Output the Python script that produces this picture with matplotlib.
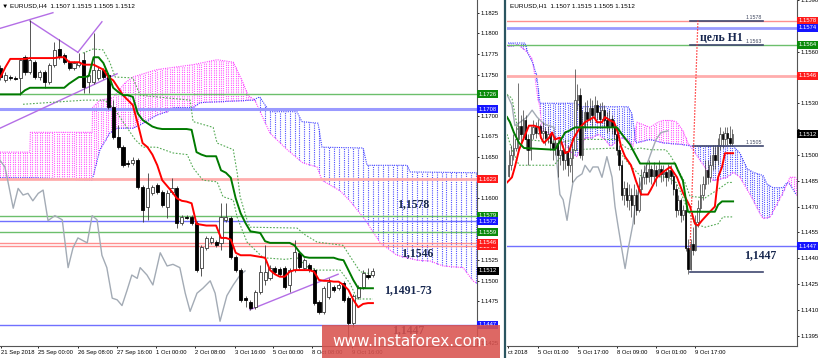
import numpy as np
import matplotlib
matplotlib.use("Agg")
import matplotlib.pyplot as plt
from matplotlib import transforms
from matplotlib.patches import Rectangle
from matplotlib.lines import Line2D

# small terminal-like font for axes
plt.rcParams['font.family'] = ['Liberation Sans', 'DejaVu Sans']

# ---------------- EURUSD H4 (left chart) ----------------
h4_open = [1.1758, 1.1743, 1.1747, 1.1746, 1.1746, 1.1771, 1.1753, 1.1765, 1.1747, 1.1753,
           1.1741, 1.1762, 1.1781, 1.1774, 1.1765, 1.1758, 1.1762, 1.1768, 1.1741, 1.1741,
           1.1746, 1.1756, 1.1750, 1.1711, 1.1674, 1.1662, 1.1643, 1.1643, 1.1646, 1.1614,
           1.1590, 1.1606, 1.1616, 1.1608, 1.1590, 1.1608, 1.1613, 1.1570, 1.1577, 1.1577,
           1.1570, 1.1516, 1.1540, 1.1547, 1.1547, 1.1546, 1.1574, 1.1576, 1.1529, 1.1513,
           1.1479, 1.1474, 1.1468, 1.1487, 1.1501, 1.1504, 1.1516, 1.1514, 1.1516, 1.1495,
           1.1513, 1.1534, 1.1516, 1.1519, 1.1513, 1.1474, 1.1462, 1.1480, 1.1493, 1.1491,
           1.1497, 1.1479, 1.1449, 1.1480, 1.1493, 1.1507, 1.1507]
h4_close = [1.1747, 1.1750, 1.1746, 1.1745, 1.1768, 1.1753, 1.1768, 1.1747, 1.1753, 1.1741,
            1.1762, 1.1780, 1.1771, 1.1765, 1.1758, 1.1764, 1.1765, 1.1735, 1.1750, 1.1756,
            1.1756, 1.1747, 1.1711, 1.1674, 1.1662, 1.1640, 1.1642, 1.1646, 1.1614, 1.1586,
            1.1613, 1.1614, 1.1608, 1.1592, 1.1606, 1.1613, 1.1570, 1.1577, 1.1576, 1.1570,
            1.1513, 1.1541, 1.1552, 1.1552, 1.1543, 1.1577, 1.1577, 1.1529, 1.1513, 1.1477,
            1.1477, 1.1467, 1.1487, 1.1511, 1.1511, 1.1516, 1.1511, 1.1508, 1.1493, 1.1513,
            1.1535, 1.1517, 1.1525, 1.1513, 1.1473, 1.1462, 1.1491, 1.1499, 1.1489, 1.1495,
            1.1477, 1.1449, 1.1482, 1.1493, 1.1510, 1.1505, 1.1512]
h4_high = [1.1762, 1.1753, 1.1750, 1.1748, 1.1770, 1.1774, 1.1816, 1.1768, 1.1756, 1.1756,
           1.1764, 1.1790, 1.1793, 1.1776, 1.1768, 1.1766, 1.1776, 1.1777, 1.1753, 1.1800,
           1.1759, 1.1758, 1.1752, 1.1719, 1.1689, 1.1665, 1.1646, 1.1650, 1.1649, 1.1616,
           1.1631, 1.1616, 1.1619, 1.1610, 1.1610, 1.1625, 1.1615, 1.1580, 1.1580, 1.1580,
           1.1573, 1.1543, 1.1554, 1.1554, 1.1550, 1.1594, 1.1594, 1.1579, 1.1531, 1.1516,
           1.1482, 1.1477, 1.1489, 1.1519, 1.1543, 1.1519, 1.1518, 1.1517, 1.1518, 1.1516,
           1.1550, 1.1536, 1.1528, 1.1522, 1.1516, 1.1477, 1.1494, 1.1504, 1.1495, 1.1497,
           1.1500, 1.1482, 1.1484, 1.1495, 1.1513, 1.1516, 1.1515]
h4_low = [1.1743, 1.1741, 1.1743, 1.1743, 1.1725, 1.1750, 1.1751, 1.1745, 1.1743, 1.1734,
          1.1739, 1.1759, 1.1769, 1.1763, 1.1756, 1.1756, 1.1759, 1.1728, 1.1728, 1.1739,
          1.1743, 1.1745, 1.1708, 1.1672, 1.1660, 1.1638, 1.1638, 1.1640, 1.1611, 1.1571,
          1.1574, 1.1604, 1.1605, 1.1590, 1.1576, 1.1605, 1.1564, 1.1568, 1.1575, 1.1568,
          1.1511, 1.1506, 1.1537, 1.1545, 1.1541, 1.1537, 1.1571, 1.1526, 1.1511, 1.1474,
          1.1468, 1.1465, 1.1466, 1.1484, 1.1495, 1.1501, 1.1508, 1.1506, 1.1490, 1.1487,
          1.1511, 1.1514, 1.1513, 1.1511, 1.1471, 1.1460, 1.1460, 1.1478, 1.1487, 1.1489,
          1.1474, 1.1432, 1.1444, 1.1478, 1.1490, 1.1502, 1.1505]

# Tenkan (red) and Kijun (green), one value per H4 bar
h4_tenkan = [1.1747, 1.1759, 1.1769, 1.1769, 1.1769, 1.1769, 1.1770, 1.1770, 1.1770, 1.1770,
             1.1770, 1.1770, 1.1771, 1.1771, 1.1765, 1.1765, 1.1765, 1.1762, 1.1762, 1.1762,
             1.1759, 1.1756, 1.1747, 1.1743, 1.1734, 1.1725, 1.1719, 1.1713, 1.1691, 1.1667,
             1.1662, 1.1653, 1.1640, 1.1622, 1.1615, 1.1608, 1.1600, 1.1597, 1.1596, 1.1594,
             1.1569, 1.1568, 1.1567, 1.1567, 1.1567, 1.1552, 1.1552, 1.1550, 1.1534, 1.1531,
             1.1531, 1.1531, 1.1530, 1.1529, 1.1528, 1.1513, 1.1508, 1.1505, 1.1505, 1.1511,
             1.1513, 1.1513, 1.1513, 1.1513, 1.1511, 1.1501, 1.1500, 1.1500, 1.1499, 1.1499,
             1.1495, 1.1489, 1.1477, 1.1468, 1.1472, 1.1473, 1.1473]
h4_kijun = [1.1726, 1.1726, 1.1726, 1.1726, 1.1726, 1.1731, 1.1734, 1.1734, 1.1734, 1.1734,
            1.1734, 1.1734, 1.1734, 1.1734, 1.1739, 1.1743, 1.1747, 1.1747, 1.1748, 1.1771,
            1.1771, 1.1764, 1.1750, 1.1734, 1.1729, 1.1725, 1.1725, 1.1723, 1.1703, 1.1695,
            1.1691, 1.1687, 1.1685, 1.1684, 1.1684, 1.1684, 1.1684, 1.1684, 1.1684, 1.1683,
            1.1656, 1.1653, 1.1651, 1.1651, 1.1651, 1.1634, 1.1631, 1.1625, 1.1600, 1.1582,
            1.1570, 1.1560, 1.1559, 1.1558, 1.1548, 1.1546, 1.1546, 1.1546, 1.1546, 1.1546,
            1.1543, 1.1535, 1.1529, 1.1528, 1.1528, 1.1528, 1.1528, 1.1528, 1.1528, 1.1526,
            1.1525, 1.1513, 1.1501, 1.1491, 1.1491, 1.1491, 1.1491]

# dotted green lines (vertices: bar, price)
h4_dot_up_x = [16.8, 18.9, 20.9, 22.3, 23.4, 27.0, 28.5, 38.7, 39.3, 43.4, 44.2, 47.5, 48.3, 48.9,
               50.3, 50.9, 60.5, 62.1, 64.6, 69.9, 71.3, 73.4, 76.0]
h4_dot_up_y = [1.1776, 1.1781, 1.1780, 1.1765, 1.1747, 1.1746, 1.1725, 1.1719, 1.1693, 1.1686,
               1.1667, 1.1659, 1.1631, 1.1602, 1.1574, 1.1565, 1.1564, 1.1556, 1.1547, 1.1543,
               1.1530, 1.1511, 1.1508]
h4_dot_lo_x = [4.6, 12.1, 17.2, 21.3, 23.4, 27.5, 29.1, 31.9, 35.2, 38.1, 39.3, 41.3, 44.2, 45.4,
               47.5, 48.3, 50.3, 53.6, 58.1, 60.5, 62.6, 64.6, 69.3, 71.3, 72.8, 76.0]
h4_dot_lo_y = [1.1714, 1.1717, 1.1719, 1.1719, 1.1707, 1.1671, 1.1662, 1.1662, 1.1655, 1.1653,
               1.1637, 1.1622, 1.1620, 1.1602, 1.1598, 1.1577, 1.1547, 1.1528, 1.1526, 1.1528,
               1.1517, 1.1513, 1.1513, 1.1497, 1.1478, 1.1478]

# Chikou span (grey)
h4_chikou_x = [-0.1, 0.9, 1.5, 2.6, 3.6, 4.6, 5.6, 6.6, 7.7, 8.7, 9.7, 11.1, 12.6, 13.8, 14.8, 15.8,
               17.7, 18.7, 19.7, 20.7, 21.7, 22.8, 23.8, 24.8, 25.8, 26.8, 27.9, 28.5, 29.9, 31.1,
               32.6, 34.0, 35.2, 36.6, 37.7, 38.7, 40.1, 41.3, 42.8, 43.8, 44.8, 46.2, 47.5, 48.9, 49.9]
h4_chikou_y = [1.1646, 1.1638, 1.1621, 1.1588, 1.1612, 1.1604, 1.1606, 1.1597, 1.1606, 1.1610,
               1.1573, 1.1579, 1.1574, 1.1516, 1.1540, 1.1552, 1.1546, 1.1579, 1.1574, 1.1531,
               1.1516, 1.1479, 1.1477, 1.1470, 1.1488, 1.1507, 1.1503, 1.1516, 1.1507, 1.1495,
               1.1534, 1.1518, 1.1520, 1.1516, 1.1485, 1.1463, 1.1485, 1.1491, 1.1500, 1.1485,
               1.1451, 1.1482, 1.1495, 1.1507, 1.1512]

# Senkou span A (magenta) and B (blue) vertices
h4_spanA_x = [-0.1, 6.0, 6.1, 18.7, 18.8, 20.3, 23.0, 25.4, 27.0, 31.9, 39.3, 44.2, 47.5, 49.5, 50.5,
              51.9, 55.0, 58.5, 61.7, 64.6, 65.6, 69.3, 71.3, 74.4, 77.5, 80.9, 85.0, 87.7, 90.3,
              94.4, 96.4, 97.2]
h4_spanA_y = [1.1656, 1.1656, 1.1680, 1.1680, 1.1710, 1.1719, 1.1722, 1.1740, 1.1747, 1.1756,
              1.1762, 1.1768, 1.1765, 1.1740, 1.1725, 1.1719, 1.1679, 1.1659, 1.1643, 1.1638,
              1.1622, 1.1609, 1.1597, 1.1574, 1.1546, 1.1531, 1.1525, 1.1524, 1.1518, 1.1516,
              1.1500, 1.1497]
h4_spanB_x = [-0.1, 7.0, 18.7, 20.3, 22.3, 23.8, 27.0, 29.1, 31.9, 34.0, 35.2, 39.3, 40.7, 51.5,
              52.9, 54.0, 55.0, 60.5, 61.5, 64.8, 65.6, 74.0, 74.8, 83.0, 83.6, 97.2]
h4_spanB_y = [1.1625, 1.1625, 1.1622, 1.1659, 1.1679, 1.1685, 1.1685, 1.1691, 1.1701, 1.1705,
              1.1710, 1.1710, 1.1716, 1.1719, 1.1723, 1.1713, 1.1705, 1.1705, 1.1693, 1.1691,
              1.1662, 1.1661, 1.1640, 1.1640, 1.1632, 1.1631]

# purple trend lines (start bar, start price, end bar, end price)
h4_trends = [(-0.1, 1.1806, 10.7, 1.1825), (6.0, 1.1815, 15.8, 1.1777), (15.8, 1.1777, 20.7, 1.1814),
             (-0.1, 1.1685, 23.8, 1.1751), (50.9, 1.1465, 68.9, 1.1508)]

h4_levels = [1.1726, 1.1708, 1.1623, 1.1579, 1.1572, 1.1559, 1.1542, 1.1546, 1.1447]
h4_level_kind = ['g', 'b', 'r', 'g', 'b', 'g', 'r', 'r', 'b']
h4_level_width = [1.0, 2.2, 2.0, 1.0, 1.0, 1.0, 1.0, 1.0, 1.0]

h4_price_ticks = [1.1425, 1.1450, 1.1475, 1.1500, 1.1525, 1.1550, 1.1575, 1.1600, 1.1625,
                  1.1650, 1.1675, 1.1700, 1.1725, 1.1750, 1.1775, 1.1800, 1.1825]
h4_dates = ['21 Sep 2018', '25 Sep 00:00', '26 Sep 08:00', '27 Sep 16:00', '1 Oct 00:00',
            '2 Oct 08:00', '3 Oct 16:00', '5 Oct 00:00', '8 Oct 08:00', '9 Oct 16:00']
h4_date_pos = [0.1, 7.65, 15.8, 23.8, 31.7, 39.7, 47.9, 55.6, 63.6, 71.7]

# ---------------- EURUSD H1 (right chart) ----------------
h1_open = [1.1488, 1.1494, 1.1500, 1.1504, 1.1509, 1.1517, 1.1512, 1.1520, 1.1509, 1.1503,
           1.1512, 1.1516, 1.1513, 1.1517, 1.1513, 1.1514, 1.1510, 1.1512, 1.1507, 1.1504,
           1.1507, 1.1500, 1.1503, 1.1497, 1.1502, 1.1494, 1.1498, 1.1503, 1.1532, 1.1535,
           1.1500, 1.1517, 1.1525, 1.1521, 1.1527, 1.1523, 1.1529, 1.1525, 1.1521, 1.1526,
           1.1520, 1.1517, 1.1521, 1.1516, 1.1512, 1.1503, 1.1494, 1.1477, 1.1481, 1.1474,
           1.1477, 1.1471, 1.1477, 1.1468, 1.1480, 1.1487, 1.1490, 1.1487, 1.1492, 1.1488,
           1.1491, 1.1488, 1.1492, 1.1489, 1.1490, 1.1487, 1.1491, 1.1488, 1.1480, 1.1468,
           1.1474, 1.1465, 1.1468, 1.1446, 1.1434, 1.1448, 1.1445, 1.1461, 1.1469, 1.1477,
           1.1483, 1.1491, 1.1487, 1.1494, 1.1500, 1.1497, 1.1506, 1.1512, 1.1509, 1.1513,
           1.1510, 1.1507]
h1_close = [1.1494, 1.1500, 1.1504, 1.1509, 1.1517, 1.1512, 1.1520, 1.1509, 1.1503, 1.1512,
            1.1516, 1.1513, 1.1517, 1.1513, 1.1514, 1.1510, 1.1512, 1.1507, 1.1504, 1.1507,
            1.1500, 1.1503, 1.1497, 1.1502, 1.1494, 1.1498, 1.1503, 1.1532, 1.1535, 1.1500,
            1.1517, 1.1525, 1.1521, 1.1527, 1.1523, 1.1529, 1.1525, 1.1521, 1.1526, 1.1520,
            1.1517, 1.1521, 1.1516, 1.1512, 1.1503, 1.1494, 1.1477, 1.1481, 1.1474, 1.1477,
            1.1471, 1.1477, 1.1468, 1.1480, 1.1487, 1.1490, 1.1487, 1.1492, 1.1488, 1.1491,
            1.1488, 1.1492, 1.1489, 1.1490, 1.1487, 1.1491, 1.1488, 1.1480, 1.1468, 1.1474,
            1.1465, 1.1468, 1.1446, 1.1434, 1.1448, 1.1445, 1.1461, 1.1469, 1.1477, 1.1483,
            1.1491, 1.1487, 1.1494, 1.1500, 1.1497, 1.1506, 1.1512, 1.1509, 1.1513, 1.1510,
            1.1507, 1.1512]
h1_high = [1.1503, 1.1506, 1.1512, 1.1517, 1.1542, 1.1523, 1.1526, 1.1523, 1.1512, 1.1517,
           1.1520, 1.1519, 1.1521, 1.1518, 1.1519, 1.1516, 1.1517, 1.1513, 1.1510, 1.1511,
           1.1509, 1.1509, 1.1506, 1.1509, 1.1506, 1.1506, 1.1510, 1.1550, 1.1541, 1.1539,
           1.1526, 1.1531, 1.1532, 1.1533, 1.1532, 1.1534, 1.1532, 1.1530, 1.1531, 1.1529,
           1.1525, 1.1526, 1.1523, 1.1520, 1.1514, 1.1506, 1.1497, 1.1485, 1.1484, 1.1483,
           1.1481, 1.1483, 1.1480, 1.1487, 1.1492, 1.1494, 1.1495, 1.1497, 1.1494, 1.1496,
           1.1494, 1.1497, 1.1494, 1.1494, 1.1492, 1.1495, 1.1494, 1.1490, 1.1483, 1.1477,
           1.1475, 1.1471, 1.1471, 1.1451, 1.1451, 1.1458, 1.1465, 1.1474, 1.1483, 1.1488,
           1.1497, 1.1497, 1.1500, 1.1506, 1.1506, 1.1510, 1.1516, 1.1514, 1.1516, 1.1516,
           1.1517, 1.1515]
h1_low = [1.1487, 1.1491, 1.1497, 1.1502, 1.1503, 1.1506, 1.1509, 1.1503, 1.1494, 1.1497,
          1.1509, 1.1510, 1.1512, 1.1510, 1.1509, 1.1506, 1.1507, 1.1503, 1.1497, 1.1500,
          1.1487, 1.1494, 1.1491, 1.1492, 1.1488, 1.1490, 1.1484, 1.1502, 1.1526, 1.1498,
          1.1497, 1.1514, 1.1517, 1.1519, 1.1517, 1.1520, 1.1520, 1.1517, 1.1519, 1.1516,
          1.1513, 1.1514, 1.1512, 1.1509, 1.1500, 1.1491, 1.1474, 1.1471, 1.1470, 1.1468,
          1.1464, 1.1460, 1.1465, 1.1467, 1.1477, 1.1483, 1.1483, 1.1484, 1.1483, 1.1485,
          1.1482, 1.1487, 1.1484, 1.1485, 1.1482, 1.1485, 1.1483, 1.1477, 1.1464, 1.1465,
          1.1461, 1.1462, 1.1444, 1.1431, 1.1433, 1.1442, 1.1444, 1.1458, 1.1467, 1.1474,
          1.1480, 1.1483, 1.1484, 1.1491, 1.1492, 1.1494, 1.1503, 1.1504, 1.1506, 1.1506,
          1.1505, 1.1505]

h1_tenkan_x = [-0.6, 1.4, 2.6, 4.3, 6.3, 8.3, 10.4, 12.4, 13.2, 14.4, 16.5, 17.7, 18.9, 20.9, 23.0,
               24.6, 26.6, 29.1, 31.1, 34.8, 36.0, 38.0, 39.2, 41.3, 42.9, 44.5, 45.7, 47.4, 49.8,
               51.8, 53.9, 56.7, 57.9, 60.4, 62.8, 65.7, 68.5, 70.9, 73.8, 75.8, 77.0, 78.7, 81.9,
               83.9, 85.2, 86.8, 88.0, 91.3]
h1_tenkan_y = [1.1484, 1.1487, 1.1493, 1.1503, 1.1510, 1.1517, 1.1517, 1.1516, 1.1510, 1.1507,
               1.1510, 1.1513, 1.1509, 1.1510, 1.1501, 1.1502, 1.1510, 1.1516, 1.1519, 1.1522,
               1.1519, 1.1519, 1.1522, 1.1520, 1.1519, 1.1513, 1.1505, 1.1499, 1.1494, 1.1485,
               1.1477, 1.1477, 1.1480, 1.1487, 1.1490, 1.1493, 1.1487, 1.1478, 1.1470, 1.1460,
               1.1459, 1.1462, 1.1467, 1.1470, 1.1487, 1.1493, 1.1501, 1.1501]
h1_kijun_x = [-0.6, 0.6, 2.2, 4.3, 6.3, 18.9, 23.0, 24.6, 27.0, 44.1, 46.1, 49.4, 53.5, 67.7, 68.9,
              70.9, 72.9, 83.9, 85.2, 86.8, 91.3]
h1_kijun_y = [1.1522, 1.1519, 1.1513, 1.1507, 1.1504, 1.1503, 1.1513, 1.1514, 1.1516, 1.1516,
              1.1512, 1.1506, 1.1495, 1.1495, 1.1491, 1.1485, 1.1467, 1.1467, 1.1471, 1.1473, 1.1473]
h1_dot_up_x = [-0.6, 1.4, 3.9, 6.7, 20.9, 27.0, 44.1, 47.0, 49.4, 53.5, 57.9, 64.0, 66.1, 71.7, 73.8,
               79.9, 85.2, 89.2, 91.3]
h1_dot_up_y = [1.1535, 1.1533, 1.1514, 1.1509, 1.1507, 1.1509, 1.1509, 1.1505, 1.1503, 1.1504,
               1.1503, 1.1503, 1.1499, 1.1484, 1.1476, 1.1475, 1.1480, 1.1484, 1.1484]
h1_dot_lo_x = [-0.6, 1.4, 4.3, 18.5, 20.9, 25.0, 44.1, 46.1, 49.4, 53.5, 64.8, 68.1, 70.1, 72.9, 75.8,
               79.9, 85.2, 87.2, 91.3]
h1_dot_lo_y = [1.1512, 1.1503, 1.1494, 1.1494, 1.1498, 1.1503, 1.1504, 1.1500, 1.1494, 1.1488,
               1.1487, 1.1484, 1.1478, 1.1468, 1.1460, 1.1458, 1.1460, 1.1464, 1.1464]
h1_chikou_x = [-0.6, 1.4, 2.6, 4.7, 7.5, 9.6, 11.6, 14.4, 18.5, 19.7, 20.9, 22.2, 23.8, 25.0, 26.2,
               27.8, 29.9, 31.1, 33.1, 34.3, 36.4, 38.0, 40.0, 42.1, 43.3, 44.5, 46.1, 47.4, 48.6,
               50.6, 51.8, 53.9, 55.9, 57.9, 60.0, 62.0, 64.8]
h1_chikou_y = [1.1535, 1.1529, 1.1517, 1.1519, 1.1522, 1.1526, 1.1522, 1.1518, 1.1516, 1.1495,
               1.1477, 1.1474, 1.1462, 1.1474, 1.1484, 1.1487, 1.1489, 1.1494, 1.1490, 1.1493,
               1.1493, 1.1487, 1.1499, 1.1487, 1.1470, 1.1459, 1.1445, 1.1434, 1.1445, 1.1460,
               1.1474, 1.1484, 1.1493, 1.1501, 1.1509, 1.1513, 1.1514]
h1_spanA_x = [-0.2, 3.9, 6.7, 9.6, 10.8, 12.0, 12.8, 13.6, 16.1, 20.1, 24.2, 25.8, 27.8, 31.1, 33.9,
              36.4, 39.2, 41.3, 43.3, 45.3, 48.6, 50.6, 52.2, 57.5, 60.8, 62.8, 66.5, 68.5, 70.9,
              72.9, 75.0, 77.8, 80.7, 83.1, 88.8, 91.3, 94.1, 99.4, 102.2, 103.5, 106.3, 111.2,
              113.2, 114.4, 116.9]
h1_spanA_y = [1.1563, 1.1564, 1.1561, 1.1556, 1.1545, 1.1532, 1.1528, 1.1514, 1.1513, 1.1510,
              1.1504, 1.1501, 1.1499, 1.1510, 1.1510, 1.1512, 1.1509, 1.1505, 1.1507, 1.1510,
              1.1509, 1.1505, 1.1519, 1.1516, 1.1519, 1.1520, 1.1520, 1.1519, 1.1514, 1.1507,
              1.1503, 1.1497, 1.1491, 1.1485, 1.1487, 1.1490, 1.1487, 1.1474, 1.1466, 1.1463,
              1.1464, 1.1477, 1.1483, 1.1487, 1.1487]
h1_spanB_x = [-0.2, 6.7, 7.9, 10.0, 11.6, 12.0, 12.8, 27.8, 29.1, 48.6, 50.2, 51.8, 57.5, 62.8,
              70.9, 75.0, 91.3, 94.1, 97.0, 99.4, 103.5, 105.1, 107.5, 111.6, 113.2, 114.4, 116.9]
h1_spanB_y = [1.1565, 1.1565, 1.1559, 1.1553, 1.1545, 1.1539, 1.1530, 1.1530, 1.1528, 1.1528,
              1.1524, 1.1507, 1.1509, 1.1507, 1.1506, 1.1505, 1.1505, 1.1501, 1.1492, 1.1490,
              1.1488, 1.1483, 1.1481, 1.1481, 1.1484, 1.1483, 1.1477]

h1_levels = [1.1578, 1.1574, 1.1564, 1.1546, 1.1447]
h1_level_kind = ['r', 'b', 'g', 'r', 'b']
h1_level_width = [1.0, 2.0, 1.0, 2.0, 1.0]

# target segments drawn on H1 (price, start bar, label)
h1_segments = [(1.1578, 73.8, '1.1578'), (1.1564, 73.8, '1.1563'), (1.1505, 75.0, '1.1505'),
               (1.1432, 73.8, '')]
h1_segment_end = 103.5
h1_target_x = [73.8, 77.0]
h1_target_y = [1.1445, 1.1578]

h1_price_ticks = [1.1395, 1.1410, 1.1425, 1.1440, 1.1455, 1.1470, 1.1485, 1.1500, 1.1515,
                  1.1530, 1.1545, 1.1560, 1.1575, 1.1590]
h1_dates = ['ct 2018', '5 Oct 01:00', '5 Oct 17:00', '8 Oct 09:00', '9 Oct 01:00', '9 Oct 17:00']
h1_date_pos = [-0.2, 12.0, 28.3, 44.1, 60.0, 75.8]

last_price = 1.1512

line_col = {'g': '#6cbf6c', 'b': '#7070ff', 'r': '#ff8f8f'}
thick_col = {'b': '#9a9aff', 'r': '#ffadad'}
box_col = {'g': '#0a8a0a', 'b': '#1515ff', 'r': '#ff1a1a', 'k': '#000000'}
navy = '#16264e'
W, H = 820, 358
FS = 4.2


def setup_axes(ax, xlim, ylim, ticks, boxes, near, dates, date_pos):
    ax.set_xlim(*xlim)
    ax.set_ylim(*ylim)
    ax.yaxis.tick_right()
    # price labels hidden behind a level box are left blank, as on the terminal
    ax.set_yticks(ticks)
    ax.set_yticklabels(['' if min(abs(t - b) for b in boxes) < near else '%.4f' % t for t in ticks])
    ax.set_xticks(date_pos)
    ax.set_xticklabels(dates, ha='left')
    ax.tick_params(labelsize=FS, length=1.5, width=0.6, pad=1.2, colors='black')
    ax.spines['top'].set_visible(False)
    ax.spines['left'].set_visible(False)
    ax.spines['right'].set_color('#555555')
    ax.spines['bottom'].set_color('#555555')


def level_box(ax, y, text, kind):
    tr = transforms.blended_transform_factory(ax.transAxes, ax.transData)
    ax.text(1.004, y, text, transform=tr, ha='left', va='center', fontsize=FS, color='white',
            bbox=dict(boxstyle='square,pad=0.25', fc=box_col[kind], ec='none'),
            clip_on=False, zorder=12)


def draw_cloud(ax, ax_x, ay, bx, by, n, up_step):
    # dotted vertical hatch columns, like the terminal does
    xs_up = np.arange(0, n, up_step)
    a = np.interp(xs_up, ax_x, ay)
    b = np.interp(xs_up, bx, by)
    up = a >= b
    ax.vlines(xs_up[up], b[up], a[up], colors='#ff55ff', linestyles=(0, (1, 1)), lw=0.8, zorder=1)
    xs = np.arange(0, n)
    a = np.interp(xs, ax_x, ay)
    b = np.interp(xs, bx, by)
    dn = a < b
    ax.vlines(xs[dn], a[dn], b[dn], colors='#5050ff', linestyles=(0, (1, 1)), lw=0.8, zorder=1)
    ax.plot(ax_x, ay, color='#ff44ff', lw=0.8, ls=(0, (1, 1)), zorder=1)
    ax.plot(bx, by, color='#4040ff', lw=0.8, ls=(0, (1, 1)), zorder=1)


def draw_candles(ax, o, h, l, c, width, lw):
    o, h, l, c = map(np.array, (o, h, l, c))
    x = np.arange(len(o))
    up = c >= o
    lo = np.minimum(o, c)
    ht = np.maximum(np.abs(c - o), 0.00003)
    ax.vlines(x, l, h, colors='#3a3a3a', lw=lw, zorder=5)
    ax.bar(x[up], ht[up], width, bottom=lo[up], color='white', edgecolor='#3a3a3a', lw=lw, zorder=6)
    ax.bar(x[~up], ht[~up], width, bottom=lo[~up], color='black', edgecolor='black', lw=lw, zorder=6)


fig = plt.figure(figsize=(8.2, 3.58), dpi=100)
axL = fig.add_axes([0, 12 / H, 477 / W, 346 / H])
axR = fig.add_axes([507 / W, 12 / H, 290 / W, 346 / H])

# ---- left chart ----
setup_axes(axL, (-0.1, 97.24), (1.14210, 1.18404), h4_price_ticks, h4_levels + [last_price],
           0.00045, h4_dates, h4_date_pos)
draw_cloud(axL, h4_spanA_x, h4_spanA_y, h4_spanB_x, h4_spanB_y, 98, 0.5)
for y, k, w in zip(h4_levels, h4_level_kind, h4_level_width):
    axL.axhline(y, color=line_col[k] if w < 2 else thick_col[k], lw=w, zorder=2)
    level_box(axL, y, '%.4f' % y, k)
level_box(axL, last_price, '%.4f' % last_price, 'k')
for x0, y0, x1, y1 in h4_trends:
    axL.plot([x0, x1], [y0, y1], color='#b46ee6', lw=1.0, zorder=3)
axL.plot(h4_chikou_x, h4_chikou_y, color='#a3abb5', lw=1.0, zorder=3)
axL.plot(h4_dot_up_x, h4_dot_up_y, color='#55aa55', lw=0.8, ls=(0, (1.5, 1.5)), zorder=3)
axL.plot(h4_dot_lo_x, h4_dot_lo_y, color='#55aa55', lw=0.8, ls=(0, (1.5, 1.5)), zorder=3)
draw_candles(axL, h4_open, h4_high, h4_low, h4_close, 0.62, 0.6)
axL.plot(np.arange(len(h4_tenkan)), h4_tenkan, color='#ff0000', lw=1.4, zorder=7)
axL.plot(np.arange(len(h4_kijun)), h4_kijun, color='#007a00', lw=1.4, zorder=7)
axL.text(0.004, 0.99, '\u25bc EURUSD,H4  1.1507 1.1515 1.1505 1.1512', transform=axL.transAxes,
         fontsize=4.6, va='top', ha='left', zorder=12)
for txt, x, y in [('1,1578', 84.2, 1.1593), ('1,1546', 85.0, 1.1534), ('1,1491-73', 83.2, 1.1489),
                  ('1,1447', 83.2, 1.1440)]:
    axL.text(x, y, txt, ha='center', va='center', fontsize=8.5, fontweight='bold', color=navy,
             family=['Liberation Serif', 'DejaVu Serif'], zorder=9)

# ---- right chart ----
setup_axes(axR, (-0.61, 117.28), (1.13890, 1.15900), h1_price_ticks, h1_levels + [last_price],
           0.00031, h1_dates, h1_date_pos)
draw_cloud(axR, h1_spanA_x, h1_spanA_y, h1_spanB_x, h1_spanB_y, 118, 1)
for y, k, w in zip(h1_levels, h1_level_kind, h1_level_width):
    axR.axhline(y, color=line_col[k] if w < 2 else thick_col[k], lw=w, zorder=2)
    level_box(axR, y, '%.4f' % y, k)
level_box(axR, last_price, '%.4f' % last_price, 'k')
axR.plot(h1_chikou_x, h1_chikou_y, color='#a3abb5', lw=1.0, zorder=3)
axR.plot(h1_dot_up_x, h1_dot_up_y, color='#55aa55', lw=0.8, ls=(0, (1.5, 1.5)), zorder=3)
axR.plot(h1_dot_lo_x, h1_dot_lo_y, color='#55aa55', lw=0.8, ls=(0, (1.5, 1.5)), zorder=3)
draw_candles(axR, h1_open, h1_high, h1_low, h1_close, 0.6, 0.5)
axR.plot(h1_tenkan_x, h1_tenkan_y, color='#ff0000', lw=1.4, zorder=7)
axR.plot(h1_kijun_x, h1_kijun_y, color='#007a00', lw=1.4, zorder=7)
for y, x0, lab in h1_segments:
    axR.plot([x0, h1_segment_end], [y, y], color='#404870', lw=1.2, zorder=8)
    if lab:
        axR.text(h1_segment_end - 0.5, y + 0.00005, lab, ha='right', va='bottom', fontsize=3.8,
                 color='#404860', zorder=8)
axR.plot(h1_target_x, h1_target_y, color='#ff3030', lw=0.9, ls=(0, (1.2, 1.2)), zorder=8)
axR.text(0.01, 0.99, 'EURUSD,H1  1.1507 1.1515 1.1505 1.1512', transform=axR.transAxes,
         fontsize=4.6, va='top', ha='left', zorder=12)
axR.text(86.5, 1.1568, '\u0446\u0435\u043b\u044c H1', ha='center', va='center', fontsize=8.5,
         fontweight='bold', color=navy, family=['Liberation Serif', 'DejaVu Serif'], zorder=9)
axR.text(102.2, 1.1442, '1,1447', ha='center', va='center', fontsize=8.5, fontweight='bold',
         color=navy, family=['Liberation Serif', 'DejaVu Serif'], zorder=9)

# window separator and watermark
fig.add_artist(Line2D([505 / W, 505 / W], [0, 1], transform=fig.transFigure, color='#2b5560', lw=1.6))
fig.add_artist(Rectangle((322 / W, 0), 178 / W, 33 / H, transform=fig.transFigure,
                         fc='#d9534f', ec='none', alpha=0.88, zorder=20))
fig.text(410 / W, 16 / H, 'www.instaforex.com', color='white', fontsize=11, ha='center',
         va='center', family=['DejaVu Sans'], zorder=21)

fig.savefig('out.png', dpi=100, facecolor='white')
